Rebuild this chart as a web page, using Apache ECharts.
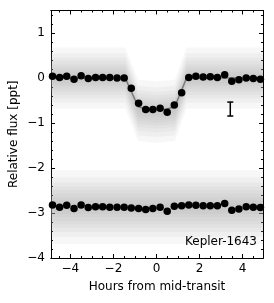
<!DOCTYPE html>
<html><head><meta charset="utf-8">
<script src="https://cdn.jsdelivr.net/npm/echarts@6/dist/echarts.min.js"></script>
<style>html,body{margin:0;padding:0;background:#fff}#c{width:274px;height:303px}</style>
</head><body><div id="c"></div>
<script>
// ---- data ----
const binHours = [-4.83, -4.5, -4.17, -3.83, -3.5, -3.17, -2.83, -2.5, -2.17, -1.83,
  -1.5, -1.17, -0.83, -0.5, -0.17, 0.17, 0.5, 0.83, 1.17, 1.5,
  1.83, 2.17, 2.5, 2.83, 3.17, 3.5, 3.83, 4.17, 4.5, 4.83];
const transitFlux = [0.04, 0.01, 0.04, -0.03, 0.05, -0.01, 0.01, 0.01, 0.01, 0.0,
  0.0, -0.23, -0.56, -0.70, -0.70, -0.67, -0.76, -0.60, -0.33, 0.01,
  0.04, 0.02, 0.03, 0.01, 0.07, -0.07, -0.04, 0.0, -0.01, -0.03];
const offsetFlux = [-2.82, -2.87, -2.83, -2.90, -2.82, -2.88, -2.86, -2.86, -2.87, -2.87,
  -2.87, -2.89, -2.90, -2.92, -2.90, -2.87, -2.96, -2.85, -2.84, -2.82,
  -2.83, -2.84, -2.84, -2.84, -2.79, -2.94, -2.91, -2.86, -2.87, -2.88];
const modelHours = [-4.9, -1.45, -0.85, -0.5, 0, 0.5, 0.85, 1.4, 4.95];
const modelFlux = [0, 0, -0.64, -0.69, -0.71, -0.69, -0.64, 0, 0];
// scatter cloud of unbinned points, drawn as its envelope (density layers)
const cloudHours = [-4.9, -1.45, -0.85, 0, 0.85, 1.4, 4.95];
const transitCloudCenter = [0, 0, -0.72, -0.76, -0.72, 0, 0];
const offsetCloudCenter = [-2.87, -2.87, -2.87, -2.87, -2.87, -2.87, -2.87];
const transitCloudSpread = [0.06, 0.12, 0.18, 0.24, 0.30, 0.37, 0.45, 0.55, 0.68];
const offsetCloudSpread = [0.08, 0.15, 0.22, 0.30, 0.38, 0.46, 0.55, 0.66, 0.82];
const errorBar = [3.43, -0.69, 0.155];
const xMajorTicks = [-4, -2, 0, 2, 4];
const xMinorTicks = [-4.5, -3.5, -3, -2.5, -1.5, -1, -0.5, 0.5, 1, 1.5, 2.5, 3, 3.5, 4.5];
const yMajorTicks = [-4, -3, -2, -1, 0, 1];
const yMinorTicks = [-3.8, -3.6, -3.4, -3.2, -2.8, -2.6, -2.4, -2.2, -1.8, -1.6, -1.4, -1.2,
  -0.8, -0.6, -0.4, -0.2, 0.2, 0.4, 0.6, 0.8, 1.2, 1.4];
const label = 'Kepler-1643';

// ---- chart ----
const FONT = 'DejaVu Sans';
const FS = 12;
const X_MIN = -4.9, X_MAX = 4.95, Y_MIN = -4, Y_MAX = 1.5;
const fmt = v => (v < 0 ? '\u2212' + Math.abs(v) : String(v));

function xAx(position, ticks, len, withLabels) {
  return {
    type: 'value', min: X_MIN, max: X_MAX, position,
    axisLine: { show: true, onZero: false, lineStyle: { color: '#000', width: 1 } },
    axisTick: { show: true, inside: true, length: len, customValues: ticks, lineStyle: { color: '#000', width: 1 } },
    axisLabel: withLabels ? { show: true, customValues: xMajorTicks, formatter: fmt, color: '#000', fontSize: FS, fontFamily: FONT, margin: 5 } : { show: false },
    splitLine: { show: false },
    name: withLabels ? 'Hours from mid-transit' : '',
    nameLocation: 'middle', nameGap: 23, nameMoveOverlap: false,
    nameTextStyle: { color: '#000', fontSize: FS, fontFamily: FONT }
  };
}
function yAx(position, ticks, len, withLabels) {
  return {
    type: 'value', min: Y_MIN, max: Y_MAX, position,
    axisLine: { show: true, onZero: false, lineStyle: { color: '#000', width: 1 } },
    axisTick: { show: true, inside: true, length: len, customValues: ticks, lineStyle: { color: '#000', width: 1 } },
    axisLabel: withLabels ? { show: true, customValues: yMajorTicks, formatter: fmt, color: '#000', fontSize: FS, fontFamily: FONT, margin: 6 } : { show: false },
    splitLine: { show: false },
    name: withLabels ? 'Relative flux [ppt]' : '',
    nameLocation: 'middle', nameGap: 31, nameMoveOverlap: false,
    nameTextStyle: { color: '#000', fontSize: FS, fontFamily: FONT }
  };
}

function cloudSeries(center, spread) {
  const upper = cloudHours.map((h, i) => [h, center[i] + spread]);
  const lower = cloudHours.map((h, i) => [h, center[i] - spread]).reverse();
  const pts = upper.concat(lower);
  return {
    type: 'custom', xAxisIndex: 0, yAxisIndex: 0, clip: true, silent: true, z: 1,
    data: [pts[0]],
    renderItem: (params, api) => ({
      type: 'polygon',
      shape: { points: pts.map(p => api.coord(p)) },
      style: { fill: 'rgba(160,160,160,0.085)', stroke: null }
    })
  };
}

const series = [];
transitCloudSpread.forEach(s => series.push(cloudSeries(transitCloudCenter, s)));
offsetCloudSpread.forEach(s => series.push(cloudSeries(offsetCloudCenter, s)));
series.push({
  type: 'line', xAxisIndex: 0, yAxisIndex: 0, z: 3, showSymbol: false, silent: true,
  data: modelHours.map((h, i) => [h, modelFlux[i]]),
  lineStyle: { color: '#7a7a7a', width: 1.5 }
});
series.push({
  type: 'scatter', xAxisIndex: 0, yAxisIndex: 0, z: 4, symbol: 'circle', symbolSize: 7.5,
  itemStyle: { color: '#000', opacity: 1 },
  data: binHours.map((h, i) => [h, transitFlux[i]])
});
series.push({
  type: 'scatter', xAxisIndex: 0, yAxisIndex: 0, z: 4, symbol: 'circle', symbolSize: 7.5,
  itemStyle: { color: '#000', opacity: 1 },
  data: binHours.map((h, i) => [h, offsetFlux[i]])
});
series.push({
  type: 'custom', xAxisIndex: 0, yAxisIndex: 0, z: 5,
  data: [errorBar], encode: { x: 0, y: 1 },
  renderItem: (params, api) => {
    const x = api.value(0), y = api.value(1), e = api.value(2);
    const t = api.coord([x, y + e]), b = api.coord([x, y - e]);
    const w = 3, st = { stroke: '#000', lineWidth: 1.5 };
    return { type: 'group', children: [
      { type: 'line', shape: { x1: t[0], y1: t[1], x2: b[0], y2: b[1] }, style: st },
      { type: 'line', shape: { x1: t[0] - w, y1: t[1], x2: t[0] + w, y2: t[1] }, style: st },
      { type: 'line', shape: { x1: b[0] - w, y1: b[1], x2: b[0] + w, y2: b[1] }, style: st }
    ]};
  }
});

const chart = echarts.init(document.getElementById('c'), null, { renderer: 'canvas' });
chart.setOption({
  animation: false,
  backgroundColor: '#fff',
  textStyle: { fontFamily: FONT },
  grid: { left: 51, right: 11, top: 10.5, bottom: 45, containLabel: false, outerBoundsMode: 'none' },
  xAxis: [xAx('bottom', xMajorTicks, 4, true), xAx('bottom', xMinorTicks, 2, false),
          xAx('top', xMajorTicks, 4, false), xAx('top', xMinorTicks, 2, false)],
  yAxis: [yAx('left', yMajorTicks, 4, true), yAx('left', yMinorTicks, 2, false),
          yAx('right', yMajorTicks, 4, false), yAx('right', yMinorTicks, 2, false)],
  graphic: [{ type: 'text', right: 17, top: 236, z: 10,
    style: { text: label, fill: '#000', font: FS + 'px "DejaVu Sans"' } }],
  series
});
</script></body></html>
